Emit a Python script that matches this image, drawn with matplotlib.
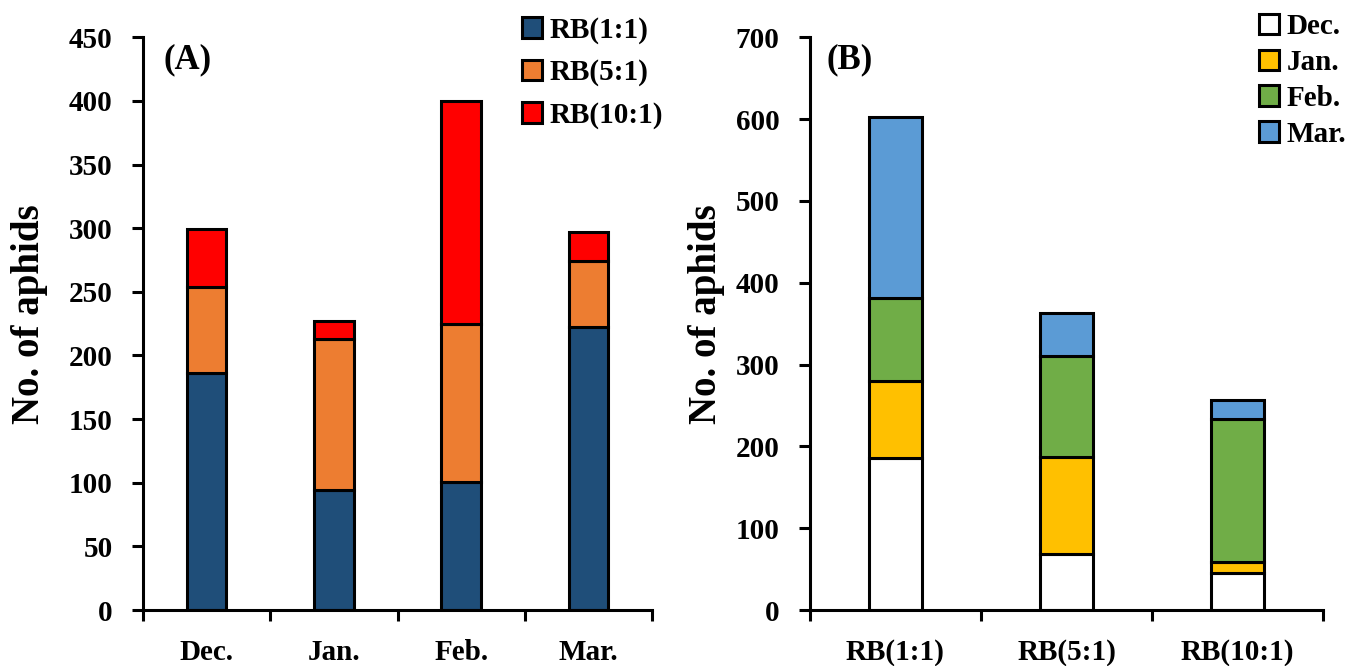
import numpy as np
import matplotlib.pyplot as plt
from matplotlib.ticker import FixedLocator

months = ["Dec.", "Jan.", "Feb.", "Mar."]
ratios = ["RB(1:1)", "RB(5:1)", "RB(10:1)"]

# aphid counts per month for each ratio
rb_1_1 = [186, 94, 101, 222]
rb_5_1 = [68, 119, 124, 52]
rb_10_1 = [45, 14, 175, 23]

ratio_colors = ["#1F4E79", "#ED7D31", "#FF0000"]
month_colors = ["#FFFFFF", "#FFC000", "#70AD47", "#5B9BD5"]

plt.rcParams['font.family'] = ['Liberation Serif', 'DejaVu Serif']
plt.rcParams['font.weight'] = 'bold'

fig = plt.figure(figsize=(13.5, 6.66), dpi=100)
axA = fig.add_axes([0.106, 0.084, 0.377, 0.860])
axB = fig.add_axes([0.600, 0.084, 0.380, 0.860])

def style(ax, n, ymax, step, label_x):
    ax.set_xlim(-0.5, n - 0.5)
    ax.set_ylim(0, ymax)
    ax.set_yticks(np.arange(0, ymax + 1, step))
    ax.set_xticks(range(n))
    ax.xaxis.set_minor_locator(FixedLocator(np.arange(-0.5, n, 1.0)))
    ax.tick_params(axis='x', which='major', length=0, pad=21, labelsize=21)
    ax.tick_params(axis='x', which='minor', length=8, width=2.2, direction='out')
    ax.tick_params(axis='y', length=8, width=2.2, direction='out', labelsize=21, pad=14)
    for s in ['top', 'right']:
        ax.spines[s].set_visible(False)
    for s in ['left', 'bottom']:
        ax.spines[s].set_linewidth(2.2)
    for lab in ax.get_xticklabels() + ax.get_yticklabels():
        lab.set_fontweight('bold')
    ax.set_ylabel("No. of aphids", fontsize=28, fontweight='bold')
    ax.yaxis.set_label_coords(label_x, 0.517)

# Panel A: months on x, stacked by ratio
x = np.arange(len(months))
bottom = np.zeros(len(months))
for vals, col, lab in zip([rb_1_1, rb_5_1, rb_10_1], ratio_colors, ratios):
    axA.bar(x, vals, width=0.31, bottom=bottom, color=col, edgecolor='black',
            linewidth=2.2, label=lab)
    bottom += np.array(vals)
style(axA, len(months), 450, 50, -0.186)
axA.set_xticklabels(months)
axA.text(0.04, 0.945, "(A)", transform=axA.transAxes, fontsize=25, fontweight='bold')
axA.legend(loc='upper left', bbox_to_anchor=(0.3865, 0.975), bbox_transform=fig.transFigure,
           frameon=False, fontsize=21, handlelength=0.7, handleheight=0.7,
           handletextpad=0.25, labelspacing=0.52, borderaxespad=0, borderpad=0)

# Panel B: ratios on x, stacked by month
by_month = np.array([rb_1_1, rb_5_1, rb_10_1]).T
xb = np.arange(len(ratios))
bottom = np.zeros(len(ratios))
for vals, col, lab in zip(by_month, month_colors, months):
    axB.bar(xb, vals, width=0.31, bottom=bottom, color=col, edgecolor='black',
            linewidth=2.2, label=lab)
    bottom += vals
style(axB, len(ratios), 700, 100, -0.165)
axB.set_xticklabels(ratios)
axB.text(0.033, 0.945, "(B)", transform=axB.transAxes, fontsize=25, fontweight='bold')
axB.legend(loc='upper right', bbox_to_anchor=(0.997, 0.98), bbox_transform=fig.transFigure,
           frameon=False, fontsize=21, handlelength=0.7, handleheight=0.7,
           handletextpad=0.25, labelspacing=0.3, borderaxespad=0, borderpad=0)

fig.savefig("out.png", dpi=100)
